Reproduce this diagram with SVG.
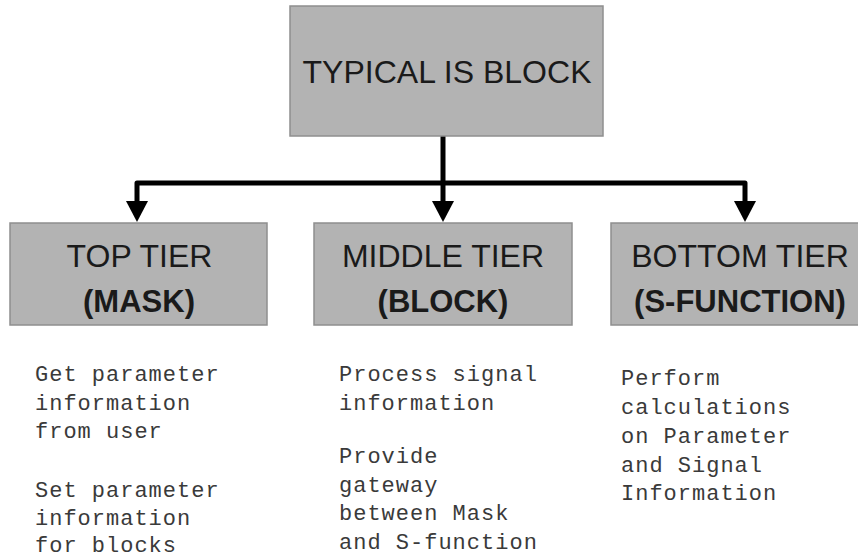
<svg xmlns="http://www.w3.org/2000/svg" width="858" height="558" viewBox="0 0 858 558">
<style>
.box{fill:#b3b3b3;stroke:#8f8f8f;stroke-width:1.5}
.t{font-family:"Liberation Sans",Arial,sans-serif;font-size:32px;fill:#1a1a1a;text-anchor:middle}
.b{font-weight:bold;font-size:31px}
.m{font-family:"Liberation Mono","Courier New",monospace;font-size:22px;letter-spacing:1px;fill:#3a3a3a}
.c{fill:none;stroke:#000;stroke-width:5;stroke-linejoin:round}
</style>
<rect width="858" height="558" fill="#fff"/>
<g id="connectors">
<path class="c" d="M443,136 V183"/>
<path class="c" d="M137,203 V183 H745 V203"/>
<path class="c" d="M443,183 V203"/>
<polygon points="126,201 148,201 137,222" fill="#000"/>
<polygon points="432,201 454,201 443,222" fill="#000"/>
<polygon points="734,201 756,201 745,222" fill="#000"/>
</g>
<g id="typical">
<rect class="box" x="290" y="6" width="313" height="130"/>
<text class="t" x="447" y="83" textLength="289" lengthAdjust="spacingAndGlyphs">TYPICAL IS BLOCK</text>
</g>
<g id="top-tier">
<rect class="box" x="10" y="223" width="257" height="102"/>
<text class="t" x="139.5" y="267">TOP TIER</text>
<text class="t b" x="139" y="312">(MASK)</text>
</g>
<g id="middle-tier">
<rect class="box" x="314" y="223" width="258" height="102"/>
<text class="t" x="443" y="267">MIDDLE TIER</text>
<text class="t b" x="443" y="312">(BLOCK)</text>
</g>
<g id="bottom-tier">
<rect class="box" x="611" y="223" width="250" height="102"/>
<text class="t" x="740" y="267">BOTTOM TIER</text>
<text class="t b" x="740" y="312">(S-FUNCTION)</text>
</g>
<g id="top-notes">
<text class="m" x="35" y="381">Get parameter</text>
<text class="m" x="35" y="409.5">information</text>
<text class="m" x="35" y="438">from user</text>
<text class="m" x="35" y="497">Set parameter</text>
<text class="m" x="35" y="525">information</text>
<text class="m" x="35" y="552">for blocks</text>
</g>
<g id="middle-notes">
<text class="m" x="339" y="381">Process signal</text>
<text class="m" x="339" y="409.5">information</text>
<text class="m" x="339" y="463">Provide</text>
<text class="m" x="339" y="491.5">gateway</text>
<text class="m" x="339" y="520">between Mask</text>
<text class="m" x="339" y="548.5">and S-function</text>
</g>
<g id="bottom-notes">
<text class="m" x="621" y="385">Perform</text>
<text class="m" x="621" y="414">calculations</text>
<text class="m" x="621" y="443">on Parameter</text>
<text class="m" x="621" y="472">and Signal</text>
<text class="m" x="621" y="500">Information</text>
</g>
</svg>
